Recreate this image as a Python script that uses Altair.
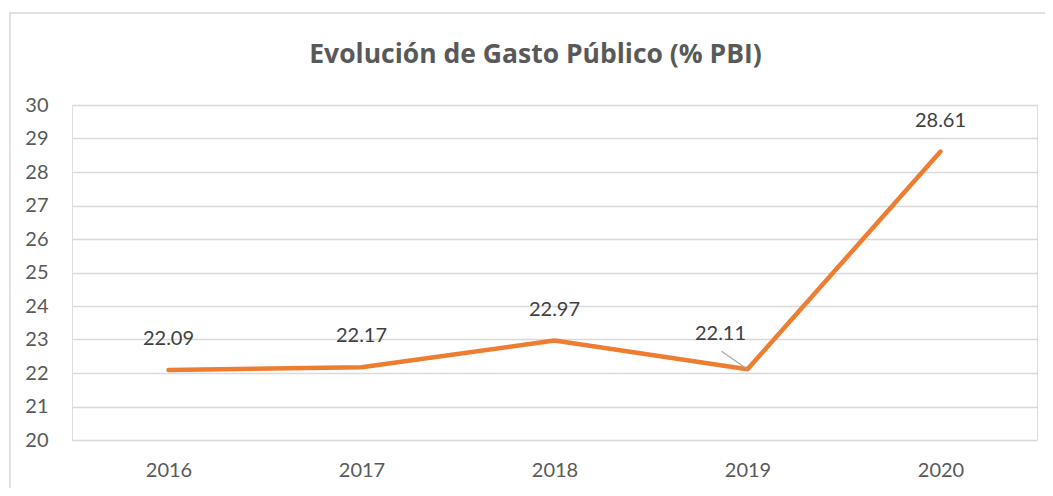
import altair as alt
import pandas as pd

years = ["2016", "2017", "2018", "2019", "2020"]
gasto = [22.09, 22.17, 22.97, 22.11, 28.61]
y_ticks = [20, 21, 22, 23, 24, 25, 26, 27, 28, 29, 30]
title_text = "Evolución de Gasto Público (% PBI)"

df = pd.DataFrame({"year": years, "value": gasto})
df["label"] = [f"{v:.2f}" for v in gasto]

FONT = "Lato"
x_enc = alt.X("year:O", sort=years,
              scale=alt.Scale(type="point", padding=0.5),
              axis=alt.Axis(title=None, labelAngle=0, labelFontSize=20, labelColor="#595959",
                            labelFont=FONT, ticks=False, domain=False, labelPadding=20, grid=False))
y_enc = alt.Y("value:Q", scale=alt.Scale(domain=[20, 30], nice=False, zero=False),
              axis=alt.Axis(title=None, values=y_ticks, tickCount=11, labelOverlap=False,
                            labelFontSize=20, labelColor="#595959",
                            labelFont=FONT, ticks=False, domain=False, labelPadding=24,
                            grid=True, gridColor="#d9d9d9", gridWidth=1.3))

base = alt.Chart(df)

border = alt.Chart(alt.Data(values=[{}])).mark_rect(
    fill=None, fillOpacity=0, stroke="#d9d9d9", strokeWidth=1.5
).encode(x=alt.value(-62), y=alt.value(-92), x2=alt.value(1100), y2=alt.value(600))

title = alt.Chart(alt.Data(values=[{"t": title_text}])).mark_text(
    font="Open Sans", fontSize=26.5, fontWeight="bold", color="#595959",
    baseline="alphabetic", align="center"
).encode(x=alt.value(463.5), y=alt.value(-42), text="t:N")

line = base.mark_line(color="#ED7D31", strokeWidth=4.5, strokeCap="round",
                      strokeJoin="round").encode(x=x_enc, y=y_enc)

labels = base.transform_filter(alt.datum.year != "2019").mark_text(
    font=FONT, fontSize=20, color="#404040", baseline="alphabetic", dy=-25
).encode(x=alt.X("year:O", sort=years), y="value:Q", text="label:N")

label19 = base.transform_filter(alt.datum.year == "2019").mark_text(
    font=FONT, fontSize=20, color="#404040", baseline="alphabetic", dx=-27, dy=-29
).encode(x=alt.X("year:O", sort=years), y="value:Q", text="label:N")

leader = base.transform_filter(alt.datum.year == "2019").mark_rule(
    color="#a6a6a6", strokeWidth=1.2, x2Offset=-26, y2Offset=-18
).encode(x=alt.X("year:O", sort=years), y="value:Q",
         x2=alt.X2("year"), y2=alt.Y2("value"))

chart = alt.layer(border, title, line, leader, labels, label19).properties(
    width=965, height=335,
    autosize=alt.AutoSizeParams(type="none"),
    padding={"left": 64, "top": 97, "right": 8, "bottom": 48},
).configure_view(stroke=None).configure(background="white")

chart.save("out.html", embed_options={"renderer": "svg", "actions": False})
